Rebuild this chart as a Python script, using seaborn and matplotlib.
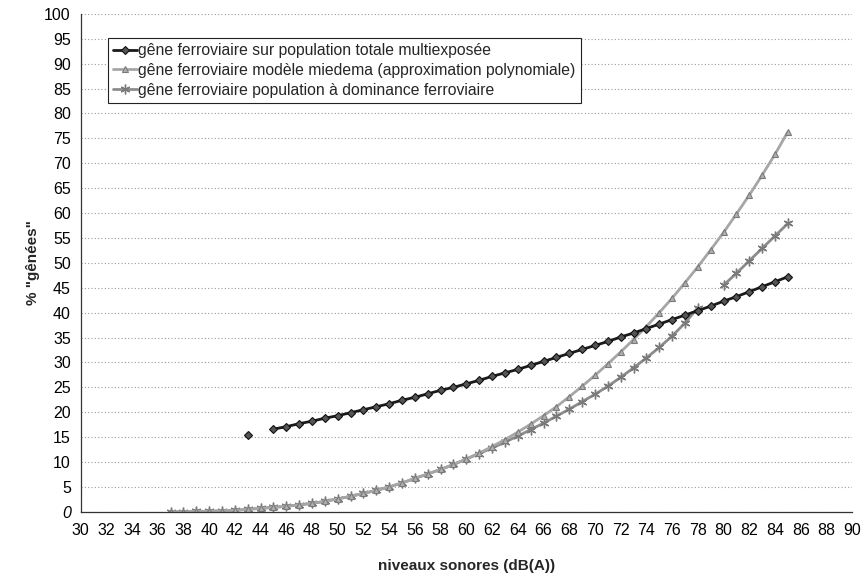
import numpy as np
import pandas as pd
import seaborn as sns
import matplotlib.pyplot as plt
from matplotlib.ticker import MultipleLocator

# gêne ferroviaire - courbes
nan = np.nan

db_total = list(range(43, 86))
gene_total = [15.5, nan, 16.6, 17.1, 17.7, 18.2, 18.8, 19.3, 19.9, 20.5, 21.1, 21.7,
              22.4, 23.0, 23.7, 24.4, 25.0, 25.7, 26.4, 27.2, 27.9, 28.6, 29.4, 30.2,
              31.0, 31.8, 32.6, 33.4, 34.2, 35.1, 35.9, 36.8, 37.7, 38.6, 39.5, 40.4,
              41.3, 42.3, 43.2, 44.2, 45.2, 46.2, 47.2]

db_miedema = list(range(37, 86))
gene_miedema = [0.0, 0.0, 0.1, 0.1, 0.2, 0.3, 0.5, 0.7, 0.9, 1.1, 1.4, 1.7, 2.1, 2.6,
                3.1, 3.7, 4.3, 5.0, 5.8, 6.7, 7.6, 8.5, 9.5, 10.6, 11.8, 13.1, 14.5,
                16.0, 17.6, 19.3, 21.1, 23.1, 25.2, 27.4, 29.7, 32.1, 34.6, 37.2, 40.0,
                42.9, 46.0, 49.2, 52.6, 56.1, 59.8, 63.6, 67.6, 71.8, 76.3]

db_domin = list(range(37, 86))
gene_domin = [0.0, 0.0, 0.1, 0.1, 0.2, 0.3, 0.5, 0.7, 0.9, 1.1, 1.4, 1.7, 2.1, 2.6,
              3.1, 3.7, 4.3, 5.0, 5.8, 6.7, 7.6, 8.5, 9.5, 10.6, 11.7, 12.8, 14.0,
              15.2, 16.5, 17.8, 19.2, 20.6, 22.1, 23.6, 25.2, 27.0, 28.9, 30.9, 33.0,
              35.3, 37.9, 41.0, nan, 45.5, 47.9, 50.4, 52.9, 55.4, 57.9]

labels = ["gêne ferroviaire sur population totale multiexposée",
          "gêne ferroviaire modèle miedema (approximation polynomiale)",
          "gêne ferroviaire population à dominance ferroviaire"]

sns.set_style("white")
plt.rcParams['font.family'] = ['Liberation Sans', 'DejaVu Sans']

fig = plt.figure(figsize=(8.66, 5.77), dpi=100)
ax = fig.add_axes([0.093, 0.113, 0.891, 0.863])

styles = [
    dict(color='#1a1a1a', lw=2.0, marker='D', ms=4.5, mfc='#555555', mec='#111111', mew=0.8),
    dict(color='#a6a6a6', lw=2.0, marker='^', ms=5, mfc='#b0b0b0', mec='#7a7a7a', mew=0.8),
    dict(color='#8c8c8c', lw=2.0, marker=(6, 2, 0), ms=7, mfc='#8c8c8c', mec='#7a7a7a', mew=1.0),
]
series = [(db_total, gene_total), (db_miedema, gene_miedema), (db_domin, gene_domin)]

handles = []
# draw in reverse so the black line sits on top
for i in [2, 1, 0]:
    xs, ys = series[i]
    df = pd.DataFrame({'db': xs, 'gene': ys})
    df['seg'] = df['gene'].isna().cumsum()
    df = df.dropna()
    for seg, part in df.groupby('seg'):
        sns.lineplot(data=part, x='db', y='gene', ax=ax, estimator=None, sort=False,
                     color=styles[i]['color'], lw=styles[i]['lw'], marker=styles[i]['marker'],
                     ms=styles[i]['ms'], mfc=styles[i]['mfc'], mec=styles[i]['mec'],
                     mew=styles[i]['mew'], legend=False)
    handles.append(plt.Line2D([], [], **styles[i]))
handles = handles[::-1]

ax.set_xlim(30, 90)
ax.set_ylim(0, 100)
ax.xaxis.set_major_locator(MultipleLocator(2))
ax.xaxis.set_minor_locator(MultipleLocator(1))
ax.yaxis.set_major_locator(MultipleLocator(5))
ax.yaxis.set_minor_locator(MultipleLocator(1))
ax.yaxis.grid(True, which='major', ls=(0, (1, 2)), color='#9a9a9a', lw=0.8)
ax.set_axisbelow(True)

for pos in ['right', 'top']:
    ax.spines[pos].set_visible(False)
for pos in ['left', 'bottom']:
    ax.spines[pos].set_color('#333333')
    ax.spines[pos].set_linewidth(0.9)

ax.tick_params(axis='both', which='major', direction='inout', length=6, width=0.8,
               labelsize=11.5, colors='#333333', labelcolor='black')
ax.tick_params(axis='both', which='minor', direction='inout', length=3, width=0.6,
               colors='#555555')
ax.tick_params(axis='x', pad=5)
ax.tick_params(axis='y', pad=4)
# the zero label is slanted in the original
fig.canvas.draw()
for t in ax.get_yticklabels():
    if t.get_text() == '0':
        t.set_style('italic')

ax.set_xlabel('niveaux sonores (dB(A))', fontsize=11, fontweight='bold', labelpad=15)
ax.set_ylabel('% "gênées"', fontsize=11, fontweight='bold', labelpad=3)

leg = ax.legend(handles, labels, loc='upper left', bbox_to_anchor=(0.035, 0.952),
                fontsize=11.3, frameon=True, fancybox=False, borderpad=0.35,
                handlelength=1.5, handletextpad=0.1, labelspacing=0.3, borderaxespad=0)
leg.get_frame().set_edgecolor('#222222')
leg.get_frame().set_linewidth(0.8)
leg.get_frame().set_alpha(1)

plt.savefig('out.png', dpi=100)
